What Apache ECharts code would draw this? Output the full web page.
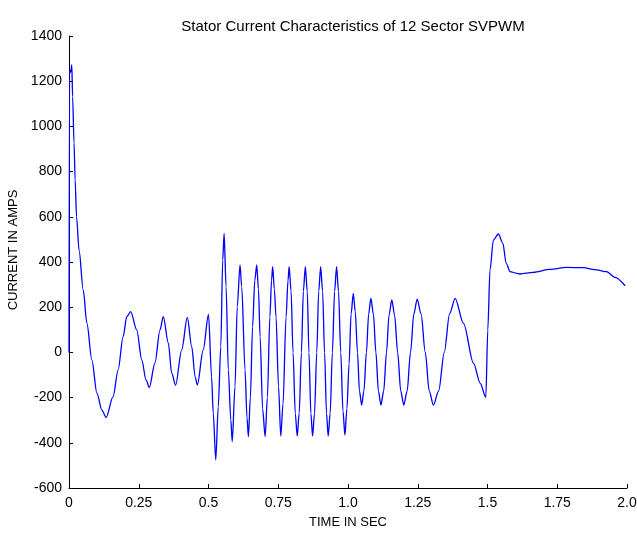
<!DOCTYPE html>
<html>
<head>
<meta charset="utf-8">
<script src="https://cdn.jsdelivr.net/npm/echarts@6/dist/echarts.min.js"></script>
<style>html,body{margin:0;padding:0;background:#fff}#c{width:637px;height:541px}</style>
</head>
<body>
<div id="c"></div>
<script>
var timeSec = [0,0.002,0.006,0.010,0.013,0.018,0.022,0.027,0.036,0.051,0.064,0.082,0.100,0.118,0.133,0.158,0.176,0.194,0.207,0.221,0.243,0.261,0.276,0.288,0.308,0.326,0.338,0.356,0.368,0.382,0.404,0.424,0.440,0.452,0.460,0.481,0.500,0.511,0.517,0.526,0.535,0.544,0.551,0.556,0.563,0.571,0.580,0.585,0.595,0.603,0.613,0.619,0.631,0.638,0.643,0.650,0.658,0.666,0.673,0.679,0.685,0.694,0.703,0.711,0.720,0.726,0.730,0.736,0.742,0.751,0.759,0.767,0.778,0.785,0.789,0.796,0.803,0.811,0.818,0.825,0.833,0.840,0.847,0.854,0.860,0.867,0.873,0.880,0.888,0.895,0.902,0.909,0.916,0.923,0.929,0.936,0.944,0.952,0.959,0.966,0.974,0.982,0.989,0.996,1.004,1.011,1.019,1.026,1.034,1.041,1.049,1.057,1.066,1.074,1.082,1.091,1.100,1.109,1.118,1.128,1.138,1.147,1.157,1.167,1.178,1.189,1.200,1.212,1.224,1.236,1.248,1.262,1.277,1.291,1.306,1.325,1.345,1.364,1.384,1.414,1.450,1.474,1.494,1.501,1.509,1.521,1.539,1.555,1.567,1.581,1.605,1.616,1.664,1.724,1.784,1.843,1.891,1.927,1.957,1.993];
var currentAmps = [0,1250,1240,1272,1131,927,763,600,453,276,130,-34,-180,-255,-288,-196,-78,70,158,180,99,-34,-122,-155,-47,99,158,42,-91,-145,11,155,25,-108,-144,11,168,-107,-269,-476,-240,25,409,527,291,-78,-299,-395,-152,202,387,291,-78,-290,-373,-200,114,320,387,280,69,-250,-373,-200,157,320,379,280,157,-150,-370,-230,157,320,379,270,0,-270,-370,-270,0,270,379,270,0,-270,-370,-270,0,270,379,270,0,-270,-370,-270,0,270,379,270,0,-260,-366,-250,-50,170,261,180,0,-170,-233,-170,0,170,239,170,0,-170,-233,-170,0,165,232,165,0,-170,-233,-170,0,170,236,170,0,-170,-233,-170,0,170,239,128,-49,-137,-199,99,365,497,524,483,394,357,350,347,354,367,376,375,365,357,332,295];
var xTickLabels = ['0','0.25','0.5','0.75','1.0','1.25','1.5','1.75','2.0'];
var yTicks = [-600,-400,-200,0,200,400,600,800,1000,1200,1400];

var data = timeSec.map(function(t,i){return [t,currentAmps[i]];});
var font = 'Liberation Sans, Arial, sans-serif';
var chart = echarts.init(document.getElementById('c'));
chart.setOption({
  animation:false,
  backgroundColor:'#fff',
  title:{text:'Stator Current Characteristics of 12 Sector SVPWM',left:348,textAlign:'center',top:14,
    textStyle:{fontFamily:font,fontSize:15,fontWeight:'normal',color:'#000'}},
  grid:{left:69,right:10,top:36,bottom:53,containLabel:false,outerBoundsMode:'none'},
  xAxis:{type:'value',min:0,max:2,interval:0.25,
    name:'TIME IN SEC',nameLocation:'middle',nameGap:28,
    nameTextStyle:{fontFamily:font,fontSize:13,color:'#000'},
    axisLine:{onZero:false,lineStyle:{color:'#000',width:1}},
    axisTick:{inside:true,length:4,lineStyle:{color:'#000'}},
    axisLabel:{fontFamily:font,fontSize:14,color:'#000',margin:8,
      formatter:function(v){return xTickLabels[Math.round(v/0.25)];}},
    splitLine:{show:false}},
  yAxis:{type:'value',min:yTicks[0],max:yTicks[yTicks.length-1],interval:200,
    name:'CURRENT IN AMPS',nameLocation:'middle',nameGap:48,nameRotate:90,
    nameTextStyle:{fontFamily:font,fontSize:13,color:'#000',padding:[0,0,0,24]},
    axisLine:{show:true,onZero:false,lineStyle:{color:'#000',width:1}},
    axisTick:{show:true,inside:true,length:4,lineStyle:{color:'#000'}},
    axisLabel:{fontFamily:font,fontSize:14,color:'#000',margin:7,
      formatter:function(v){return String(v);}},
    splitLine:{show:false}},
  series:[{type:'line',data:data,showSymbol:false,smooth:0.3,smoothMonotone:'x',
    lineStyle:{color:'#0000ff',width:1.3},itemStyle:{color:'#0000ff'}}]
});
</script>
</body>
</html>
